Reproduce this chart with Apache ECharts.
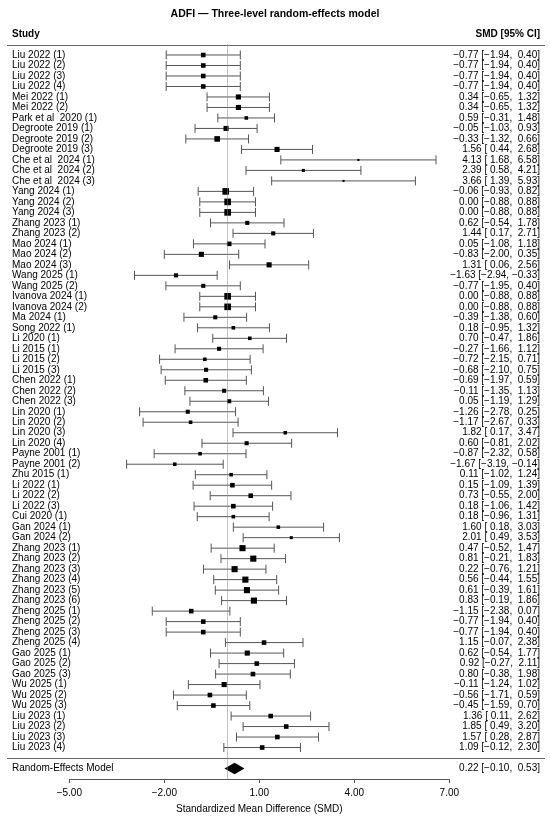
<!DOCTYPE html>
<html><head><meta charset="utf-8">
<script src="https://cdn.jsdelivr.net/npm/echarts@6.0.0/dist/echarts.min.js"></script>
<style>html,body{margin:0;padding:0;background:#fff}#c{width:550px;height:823px}</style>
</head><body><div id="c"></div>
<script>
const studies = [
 "Liu 2022 (1)","Liu 2022 (2)","Liu 2022 (3)","Liu 2022 (4)",
 "Mei 2022 (1)","Mei 2022 (2)","Park et al  2020 (1)",
 "Degroote 2019 (1)","Degroote 2019 (2)","Degroote 2019 (3)",
 "Che et al  2024 (1)","Che et al  2024 (2)","Che et al  2024 (3)",
 "Yang 2024 (1)","Yang 2024 (2)","Yang 2024 (3)",
 "Zhang 2023 (1)","Zhang 2023 (2)",
 "Mao 2024 (1)","Mao 2024 (2)","Mao 2024 (3)",
 "Wang 2025 (1)","Wang 2025 (2)",
 "Ivanova 2024 (1)","Ivanova 2024 (2)",
 "Ma 2024 (1)","Song 2022 (1)","Li 2020 (1)",
 "Li 2015 (1)","Li 2015 (2)","Li 2015 (3)",
 "Chen 2022 (1)","Chen 2022 (2)","Chen 2022 (3)",
 "Lin 2020 (1)","Lin 2020 (2)","Lin 2020 (3)","Lin 2020 (4)",
 "Payne 2001 (1)","Payne 2001 (2)","Zhu 2015 (1)",
 "Li 2022 (1)","Li 2022 (2)","Li 2022 (3)","Cui 2020 (1)",
 "Gan 2024 (1)","Gan 2024 (2)",
 "Zhang 2023 (1)","Zhang 2023 (2)","Zhang 2023 (3)","Zhang 2023 (4)","Zhang 2023 (5)","Zhang 2023 (6)",
 "Zheng 2025 (1)","Zheng 2025 (2)","Zheng 2025 (3)","Zheng 2025 (4)",
 "Gao 2025 (1)","Gao 2025 (2)","Gao 2025 (3)",
 "Wu 2025 (1)","Wu 2025 (2)","Wu 2025 (3)",
 "Liu 2023 (1)","Liu 2023 (2)","Liu 2023 (3)","Liu 2023 (4)"
];
const est = [
 -0.77,-0.77,-0.77,-0.77, 0.34,0.34,0.59, -0.05,-0.33,1.56, 4.13,2.39,3.66,
 -0.06,0.00,0.00, 0.62,1.44, 0.05,-0.83,1.31, -1.63,-0.77, 0.00,0.00,
 -0.39,0.18,0.70, -0.27,-0.72,-0.68, -0.69,-0.11,0.05,
 -1.26,-1.17,1.82,0.60, -0.87,-1.67,0.11, 0.15,0.73,0.18,0.18, 1.60,2.01,
 0.47,0.81,0.22,0.56,0.61,0.83, -1.15,-0.77,-0.77,1.15, 0.62,0.92,0.80,
 -0.11,-0.56,-0.45, 1.36,1.85,1.57,1.09
];
const lower = [
 -1.94,-1.94,-1.94,-1.94, -0.65,-0.65,-0.31, -1.03,-1.32,0.44, 1.68,0.58,1.39,
 -0.93,-0.88,-0.88, -0.54,0.17, -1.08,-2.00,0.06, -2.94,-1.95, -0.88,-0.88,
 -1.38,-0.95,-0.47, -1.66,-2.15,-2.10, -1.97,-1.35,-1.19,
 -2.78,-2.67,0.17,-0.81, -2.32,-3.19,-1.02, -1.09,-0.55,-1.06,-0.96, 0.18,0.49,
 -0.52,-0.21,-0.76,-0.44,-0.39,-0.19, -2.38,-1.94,-1.94,-0.07, -0.54,-0.27,-0.38,
 -1.24,-1.71,-1.59, 0.11,0.49,0.28,-0.12
];
const upper = [
 0.40,0.40,0.40,0.40, 1.32,1.32,1.48, 0.93,0.66,2.68, 6.58,4.21,5.93,
 0.82,0.88,0.88, 1.78,2.71, 1.18,0.35,2.56, -0.33,0.40, 0.88,0.88,
 0.60,1.32,1.86, 1.12,0.71,0.75, 0.59,1.13,1.29,
 0.25,0.33,3.47,2.02, 0.58,-0.14,1.24, 1.39,2.00,1.42,1.31, 3.03,3.53,
 1.47,1.83,1.21,1.55,1.61,1.86, 0.07,0.40,0.40,2.38, 1.77,2.11,1.98,
 1.02,0.59,0.70, 2.62,3.20,2.87,2.30
];
// estimated relative weights (%)
const weights = [
 1.50,1.50,1.50,1.50, 1.85,1.85,0.91, 1.85,2.24,1.85, 0.30,0.67,0.30,
 3.13,3.13,3.13, 1.18,1.18, 1.50,1.85,1.85, 1.18,1.18, 3.13,3.13,
 1.18,0.91,0.91, 1.18,0.91,1.18, 1.50,1.18,1.18,
 1.18,0.91,0.91,1.18, 0.91,0.91,0.91, 1.50,1.50,1.50,0.91, 0.91,0.67,
 2.66,2.66,2.66,2.66,2.66,2.66, 1.50,1.50,1.50,1.50, 1.85,1.50,1.50,
 1.85,1.50,1.50, 1.50,1.50,1.50,1.50
];
const pooledLabel = "Random-Effects Model";
const pooledEst = 0.22, pooledLower = -0.10, pooledUpper = 0.53;
const xMin = -5, xMax = 7, xInterval = 3;

const FONT = '"Liberation Sans", Arial, Helvetica, sans-serif';
const M = '\u2212';
function f2(v){ return (v < 0 ? M : '') + Math.abs(v).toFixed(2); }
function pad(v){ return (v < 0 ? M : ' ') + Math.abs(v).toFixed(2); }
function ciText(e,l,h){ return f2(e) + ' [' + pad(l) + ', ' + pad(h) + ']'; }

const rows = studies.map((s,i) => [i, est[i], lower[i], upper[i], weights[i]]);
const pooledRow = studies.length + 1;

const LEFT_X = 12, RIGHT_X = 540;
const lineStyle = {stroke:'#555', lineWidth:1};
const txt = (x,y,t,align,bold) => ({type:'text', style:{x:x, y:y, text:t, align:align, verticalAlign:'middle', fill:'#000', fontSize:10, fontWeight: bold ? 'bold' : 'normal', fontFamily:FONT}});

function renderStudy(params, api){
  const r = api.value(0);
  const pE = api.coord([api.value(1), r]);
  const pL = api.coord([api.value(2), r]);
  const pH = api.coord([api.value(3), r]);
  const y = pE[1];
  const s = Math.sqrt(api.value(4)) * 3.75;
  const i = params.dataIndex;
  return {type:'group', children:[
    {type:'line', shape:{x1:pL[0], y1:y, x2:pH[0], y2:y}, style:lineStyle},
    {type:'line', shape:{x1:pL[0], y1:y-4.5, x2:pL[0], y2:y+4.5}, style:lineStyle},
    {type:'line', shape:{x1:pH[0], y1:y-4.5, x2:pH[0], y2:y+4.5}, style:lineStyle},
    {type:'rect', shape:{x:pE[0]-s/2, y:y-s/2, width:s, height:s}, style:{fill:'#000'}},
    txt(LEFT_X, y, studies[i], 'left'),
    txt(RIGHT_X, y, ciText(est[i], lower[i], upper[i]), 'right')
  ]};
}
function renderPooled(params, api){
  const r = api.value(0);
  const pE = api.coord([api.value(1), r]);
  const pL = api.coord([api.value(2), r]);
  const pH = api.coord([api.value(3), r]);
  const y = pE[1], h = 5.7;
  return {type:'group', children:[
    {type:'polygon', shape:{points:[[pL[0],y],[pE[0],y-h],[pH[0],y],[pE[0],y+h]]}, style:{fill:'#000'}},
    txt(LEFT_X, y, pooledLabel, 'left'),
    txt(RIGHT_X, y, ciText(pooledEst, pooledLower, pooledUpper), 'right')
  ]};
}

const chart = echarts.init(document.getElementById('c'), null, {renderer:'canvas'});
chart.setOption({
  animation:false,
  backgroundColor:'#fff',
  title:{text:'ADFI \u2014 Three-level random-effects model', left:'center', top:4,
    textStyle:{fontSize:10.5, fontWeight:'bold', color:'#000', fontFamily:FONT}},
  grid:{left:69.3, right:100.7, top:44.5, bottom:44, containLabel:false},
  xAxis:{type:'value', min:xMin, max:xMax, interval:xInterval,
    axisLine:{show:true, onZero:false, lineStyle:{color:'#555', width:1}},
    axisTick:{show:true, length:4, lineStyle:{color:'#555'}},
    axisLabel:{formatter:v => f2(v), color:'#000', fontSize:10, fontFamily:FONT, margin:9},
    splitLine:{show:false},
    name:'Standardized Mean Difference (SMD)', nameLocation:'middle', nameGap:25,
    nameTextStyle:{color:'#000', fontSize:10, fontFamily:FONT}},
  yAxis:{type:'value', min:-1, max:69, inverse:true, show:false},
  graphic:[
    {type:'line', shape:{x1:7, y1:45.5, x2:545, y2:45.5}, style:{stroke:'#666', lineWidth:1}},
    {type:'line', shape:{x1:7, y1:758.5, x2:545, y2:758.5}, style:{stroke:'#666', lineWidth:1}},
    {type:'text', x:LEFT_X, y:34.5, style:{text:'Study', align:'left', verticalAlign:'middle', fill:'#000', fontSize:10, fontWeight:'bold', fontFamily:FONT}},
    {type:'text', x:RIGHT_X, y:34.5, style:{text:'SMD [95% CI]', align:'right', verticalAlign:'middle', fill:'#000', fontSize:10, fontWeight:'bold', fontFamily:FONT}}
  ],
  series:[
    {type:'custom', renderItem:renderStudy, data:rows, clip:false, encode:{x:[1,2,3], y:0},
      markLine:{silent:true, symbol:'none', label:{show:false},
        lineStyle:{type:'dotted', color:'#888', width:1}, data:[{xAxis:0}]}},
    {type:'custom', renderItem:renderPooled, data:[[pooledRow, pooledEst, pooledLower, pooledUpper]], clip:false, encode:{x:[1,2,3], y:0}}
  ]
});
</script></body></html>
